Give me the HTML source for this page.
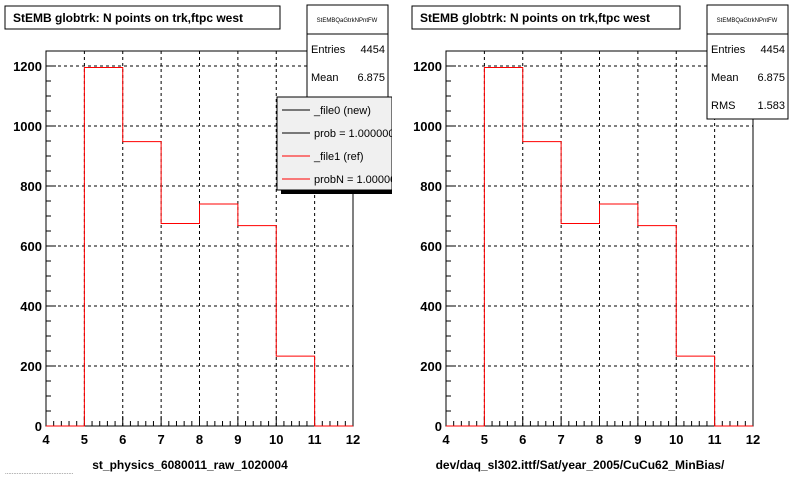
<!DOCTYPE html>
<html><head><meta charset="utf-8"><style>
body{margin:0;background:#fff}
svg{display:block;font-family:"Liberation Sans",Arial,sans-serif}
</style></head><body>
<svg id="c" width="800" height="480" viewBox="0 0 800 480" xmlns="http://www.w3.org/2000/svg">
<rect width="800" height="480" fill="#fff"/>
</svg>
<script>
const binEdges=[5,6,7,8,9,10,11];
const counts=[1195,948,675,740,668,233];
const xTicks=[4,5,6,7,8,9,10,11,12];
const yTicks=[0,200,400,600,800,1000,1200];
const panels=[
 {x0:46,title:"StEMB globtrk: N points on trk,ftpc west",tx:5,tw:275,label:"st_physics_6080011_raw_1020004",lx:190,sx:307,sh:['Entries','4454','Mean','6.875'],rms:false,legend:true},
 {x0:446,title:"StEMB globtrk: N points on trk,ftpc west",tx:412,tw:268,label:"dev/daq_sl302.ittf/Sat/year_2005/CuCu62_MinBias/",lx:580,sx:707,rms:true,legend:false}
];
const svg=document.getElementById('c');
const NS="http://www.w3.org/2000/svg";
function el(t,a,p){const e=document.createElementNS(NS,t);for(const k in a)e.setAttribute(k,a[k]);(p||svg).appendChild(e);return e;}
const Y0=426,PX=0.3,XU=38.375,TOP=51;
panels.forEach((P,pi)=>{
 const g=el('g',{});
 
 
 const X=v=>P.x0+(v-4)*XU, Y=v=>Y0-v*PX;
 const right=X(12);
 // grid
 xTicks.slice(1,-1).forEach(v=>el('line',{x1:X(v),x2:X(v),y1:TOP,y2:Y0,stroke:'#000','stroke-dasharray':'3,3','stroke-width':1},g));
 yTicks.slice(1).forEach(v=>el('line',{x1:P.x0,x2:right,y1:Y(v),y2:Y(v),stroke:'#000','stroke-dasharray':'3,3','stroke-width':1},g));
 // frame
 el('rect',{x:P.x0,y:TOP,width:right-P.x0,height:Y0-TOP,fill:'none',stroke:'#000'},g);
 // minor ticks
 for(let v=4;v<=12.001;v+=0.2){const big=Math.abs(v-Math.round(v))<0.01;el('line',{x1:X(v),x2:X(v),y1:Y0,y2:Y0-(big?10:5),stroke:'#000'},g);}
 for(let v=0;v<=1270;v+=50){const big=v%200==0;el('line',{x1:P.x0,x2:P.x0+(big?10:5),y1:Y(v),y2:Y(v),stroke:'#000'},g);}
 xTicks.forEach(v=>{const t=el('text',{x:X(v),y:Y0+18,'text-anchor':'middle','font-size':13,'font-weight':'bold'},g);t.textContent=v;});
 yTicks.forEach(v=>{const t=el('text',{x:P.x0-4,y:Y(v)+5,'text-anchor':'end','font-size':13,'font-weight':'bold'},g);t.textContent=v;});
 // histogram
 let d=`M${X(4)},${Y0}L${X(binEdges[0])},${Y0}`;
 counts.forEach((c,i)=>{d+=`L${X(binEdges[i])},${Y(c)}L${X(binEdges[i+1])},${Y(c)}`;});
 d+=`L${X(binEdges[binEdges.length-1])},${Y0}L${X(12)},${Y0}`;
 const h=el('path',{d:d,fill:'none',stroke:'#f00','stroke-width':1},g);
 
 
 // title
 const tb=el('rect',{x:P.tx,y:6,width:P.tw,height:23,fill:'#fff',stroke:'#000'},g);
 
 
 const tt=el('text',{x:P.tx+8,y:22,'font-size':12,'font-weight':'bold'},g);tt.textContent=P.title;
 const xl=el('text',{x:P.lx,y:469,'text-anchor':'middle','font-size':12,'font-weight':'bold'},g);xl.textContent=P.label;
 
 
 // stats
 const sH=P.rms?114:130;
 const sb=el('rect',{x:P.sx,y:5,width:81,height:sH,fill:'#fff',stroke:'#000'},g);
 
 
 el('line',{x1:P.sx,x2:P.sx+81,y1:34,y2:34,stroke:'#000'},g);
 const sn=el('text',{x:P.sx+40,y:22,'text-anchor':'middle','font-size':6},g);sn.textContent='StEMBQaGtrkNPntFW';
 const rows=[['Entries','4454',53],['Mean','6.875',81]];if(P.rms)rows.push(['RMS','1.583',109]);
 rows.forEach(r=>{const a=el('text',{x:P.sx+4,y:r[2],'font-size':11},g);a.textContent=r[0];const b=el('text',{x:P.sx+78,y:r[2],'text-anchor':'end','font-size':11},g);b.textContent=r[1];});
 if(P.legend){
  el('rect',{x:281,y:101,width:115,height:93,fill:'#000'},g);
  const lb=el('rect',{x:277,y:97,width:115,height:93,fill:'#f0f0f0',stroke:'#000'},g);
  
  
  const items=[['_file0 (new)','#000'],['prob = 1.000000','#000'],['_file1 (ref)','#f00'],['probN = 1.000000','#f00']];
  items.forEach((it,i)=>{const y=110+i*23;el('line',{x1:282,x2:310,y1:y,y2:y,stroke:it[1]},g);const t=el('text',{x:314,y:y+4,'font-size':11},g);t.textContent=it[0];});
  el('rect',{x:392,y:95,width:10,height:100,fill:'#fff'},g);
 }
});
const ft=el('text',{x:5,y:474,'font-size':6,fill:'#555'});ft.textContent='.........................................';
</script>
</body></html>
